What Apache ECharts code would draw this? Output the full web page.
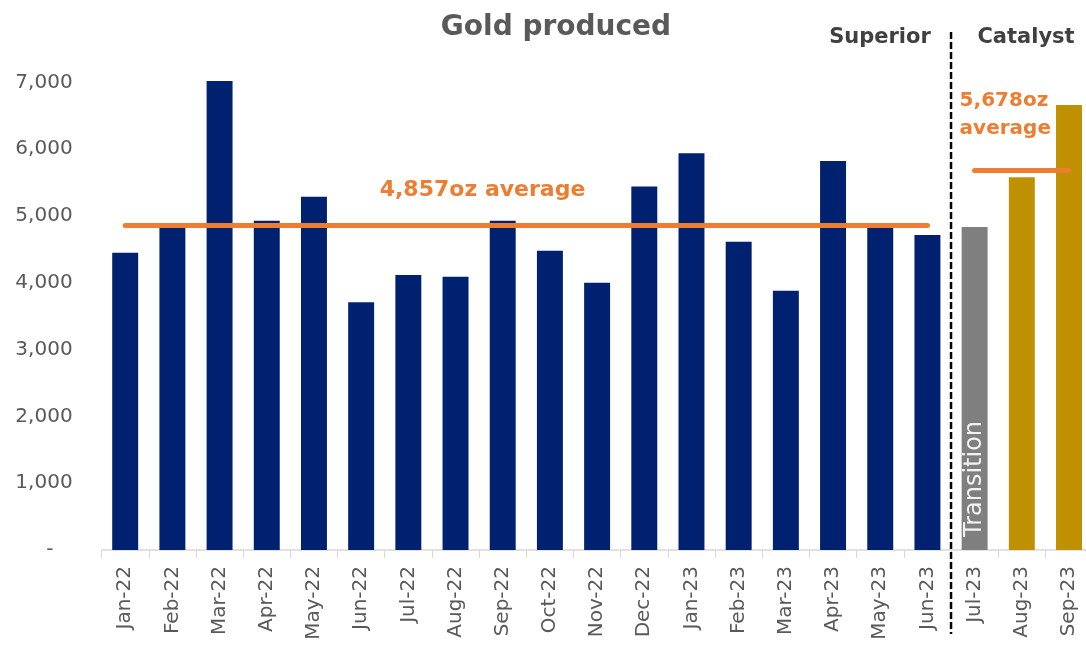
<!DOCTYPE html>
<html>
<head>
<meta charset="utf-8">
<script src="https://cdn.jsdelivr.net/npm/echarts@6/dist/echarts.min.js"></script>
<style>html,body{margin:0;padding:0;background:#fff}#c{width:1086px;height:648px}</style>
</head>
<body>
<div id="c"></div>
<script>
const categories = ['Jan-22','Feb-22','Mar-22','Apr-22','May-22','Jun-22','Jul-22','Aug-22','Sep-22','Oct-22','Nov-22','Dec-22','Jan-23','Feb-23','Mar-23','Apr-23','May-23','Jun-23','Jul-23','Aug-23','Sep-23'];
const superiorValues = [4450,4840,7020,4930,5290,3710,4115,4090,4930,4480,4000,5440,5940,4615,3880,5825,4840,4715,'-','-','-'];
const transitionValues = ['-','-','-','-','-','-','-','-','-','-','-','-','-','-','-','-','-','-',4835,'-','-'];
const catalystValues = ['-','-','-','-','-','-','-','-','-','-','-','-','-','-','-','-','-','-','-',5580,6660];
const superiorAverage = 4857;
const catalystAverage = 5678;
const superiorAvgLabel = '4,857oz average';
const catalystAvgLabel = '5,678oz\naverage';
const transitionLabel = 'Transition';
const titleText = 'Gold produced';
const superiorText = 'Superior';
const catalystText = 'Catalyst';

const FONT = 'DejaVu Sans';
const chart = echarts.init(document.getElementById('c'), null, {renderer: 'canvas'});

chart.setOption({
  animation: false,
  backgroundColor: '#ffffff',
  grid: {left: 101.6, width: 991, top: 15.6, bottom: 98, containLabel: false, outerBoundsMode: 'none'},
  xAxis: {
    type: 'category',
    data: categories,
    axisLine: {lineStyle: {color: '#d9d9d9', width: 1.5}},
    axisTick: {show: true, length: 8, lineStyle: {color: '#d9d9d9'}},
    axisLabel: {interval: 0, rotate: 90, margin: 16, color: '#595959', fontFamily: FONT, fontSize: 20}
  },
  yAxis: {
    type: 'value',
    min: 0, max: 8000, interval: 1000,
    splitLine: {show: false},
    axisLine: {show: false},
    axisTick: {show: false},
    axisLabel: {
      margin: 29, color: '#595959', fontFamily: FONT, fontSize: 20,
      formatter: function (v) {
        if (v === 0) return '-   ';
        if (v >= 8000) return '';
        return v.toLocaleString('en-US');
      }
    }
  },
  series: [
    {
      name: 'Superior', type: 'bar', stack: 'gold', barWidth: '55%',
      data: superiorValues,
      itemStyle: {color: '#002070'},
      markLine: {
        silent: true, symbol: 'none',
        lineStyle: {color: '#ED7D31', width: 5, type: 'solid', cap: 'round'},
        label: {show: false},
        data: [[{coord: ['Jan-22', superiorAverage]}, {coord: ['Jun-23', superiorAverage]}]]
      },
      markPoint: {
        silent: true, symbol: 'circle', symbolSize: 1,
        itemStyle: {color: 'rgba(0,0,0,0)'},
        data: [{
          coord: ['Aug-22', superiorAverage],
          label: {show: true, formatter: superiorAvgLabel, position: 'inside', offset: [27, -35],
            color: '#ED7D31', fontFamily: FONT, fontWeight: 'bold', fontSize: 22}
        }]
      },
      z: 2
    },
    {
      name: 'Transition', type: 'bar', stack: 'gold', barWidth: '55%',
      data: transitionValues,
      itemStyle: {color: '#7f7f7f'},
      label: {show: true, formatter: transitionLabel, rotate: 90, position: 'insideBottom',
        align: 'left', verticalAlign: 'middle', distance: 13,
        color: '#f2f2f2', fontFamily: FONT, fontSize: 24}
    },
    {
      name: 'Catalyst', type: 'bar', stack: 'gold', barWidth: '55%',
      data: catalystValues,
      itemStyle: {color: '#BF9000'},
      markLine: {
        silent: true, symbol: 'none',
        lineStyle: {color: '#ED7D31', width: 5, type: 'solid', cap: 'round'},
        label: {show: false},
        data: [[{coord: ['Jul-23', catalystAverage]}, {coord: ['Sep-23', catalystAverage]}]]
      },
      markPoint: {
        silent: true, symbol: 'circle', symbolSize: 1,
        itemStyle: {color: 'rgba(0,0,0,0)'},
        data: [{
          coord: ['Jul-23', catalystAverage],
          label: {show: true, formatter: catalystAvgLabel, position: 'inside', align: 'left',
            offset: [-15, -56], lineHeight: 28,
            color: '#ED7D31', fontFamily: FONT, fontWeight: 'bold', fontSize: 20}
        }]
      }
    }
  ]
});

const xa = chart.convertToPixel({xAxisIndex: 0}, 'Jun-23');
const xb = chart.convertToPixel({xAxisIndex: 0}, 'Jul-23');
const dividerX = (xa + xb) / 2;

chart.setOption({
  graphic: [
    {type: 'text', left: 'center', x: 0, style: {text: ''}},
    {type: 'text', x: 556, y: 28, style: {text: titleText, x: 0, y: 0, align: 'center', verticalAlign: 'middle',
      fill: '#595959', font: 'bold 28px "DejaVu Sans"'}},
    {type: 'text', x: 880, y: 38, style: {text: superiorText, align: 'center', verticalAlign: 'middle',
      fill: '#404040', font: 'bold 21px "DejaVu Sans"'}},
    {type: 'text', x: 1026, y: 38, style: {text: catalystText, align: 'center', verticalAlign: 'middle',
      fill: '#404040', font: 'bold 21px "DejaVu Sans"'}},
    {type: 'line', shape: {x1: dividerX, y1: 32, x2: dividerX, y2: 634},
      style: {stroke: '#000000', lineWidth: 2.5, lineDash: [7, 3]}, z: 100}
  ]
});
</script>
</body>
</html>
